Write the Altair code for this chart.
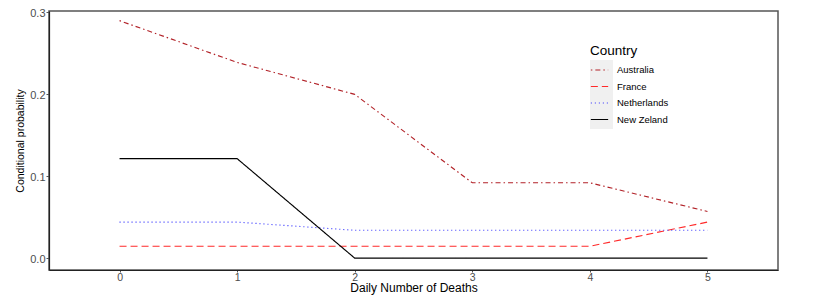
import altair as alt
import pandas as pd

deaths = [0, 1, 2, 3, 4, 5]
countries = ["Australia", "France", "Netherlands", "New Zeland"]
australia = [0.290, 0.239, 0.200, 0.092, 0.092, 0.057]
france = [0.0145, 0.0145, 0.0145, 0.0145, 0.0145, 0.044]
netherlands = [0.044, 0.044, 0.034, 0.034, 0.034, 0.034]
new_zeland = [0.1215, 0.1215, 0.0, 0.0, 0.0, 0.0]

series = {"Australia": australia, "France": france,
          "Netherlands": netherlands, "New Zeland": new_zeland}
rows = []
for c in countries:
    for d, v in zip(deaths, series[c]):
        rows.append({"Deaths": d, "Prob": v, "Country": c})
df = pd.DataFrame(rows)

colors = ["#B22228", "#FF2A2A", "#3030FF", "#000000"]
dashes = [[1.5, 3, 5, 3], [7, 4], [1, 3], [1, 0]]

FONT = "Liberation Sans"

bg = alt.Chart(pd.DataFrame({"k": [0]})).mark_rect(color="#F0F0F0").encode(
    x=alt.value(541), x2=alt.value(564), y=alt.value(49), y2=alt.value(118)
)

lines = alt.Chart(df).mark_line(strokeWidth=1.15).encode(
    x=alt.X("Deaths:Q",
            scale=alt.Scale(domain=[-0.6, 5.6], nice=False, zero=False),
            axis=alt.Axis(values=deaths, format="d", title="Daily Number of Deaths",
                          grid=False, tickSize=2, labelPadding=0, titlePadding=0,
                          labelFontSize=10.5, titleFontSize=12)),
    y=alt.Y("Prob:Q",
            scale=alt.Scale(domain=[-0.0145, 0.3018], nice=False, zero=False),
            axis=alt.Axis(values=[0, 0.1, 0.2, 0.3], format=".1f",
                          title="Conditional probability", grid=False,
                          tickSize=3, labelPadding=1, titlePadding=4, labelOffset=1.5,
                          labelFontSize=11, titleFontSize=10.5)),
    color=alt.Color("Country:N", scale=alt.Scale(domain=countries, range=colors),
                    legend=alt.Legend(title="Country")),
    strokeDash=alt.StrokeDash("Country:N",
                              scale=alt.Scale(domain=countries, range=dashes),
                              legend=alt.Legend(title="Country")),
    order="Deaths:Q",
)

chart = alt.layer(bg, lines).properties(
    width=729, height=259,
    autosize=alt.AutoSizeParams(type="none"),
    padding={"left": 41, "top": 3, "right": 29, "bottom": 26},
).configure_view(
    stroke="#555555", strokeWidth=1.5
).configure_axis(
    labelFont=FONT, titleFont=FONT, labelColor="#4D4D4D", titleColor="#000000",
    titleFontWeight="normal", domainColor="#222222", tickColor="#555555",
    domainWidth=1.2
).configure_legend(
    orient="none", legendX=541, legendY=33,
    titleFont=FONT, titleFontSize=13.5, titleFontWeight="normal", titleColor="#000000",
    titlePadding=3,
    labelFont=FONT, labelFontSize=9.5, labelColor="#000000", labelOffset=8,
    symbolType="stroke", symbolSize=300, symbolStrokeWidth=1.15, rowPadding=2.5,
    padding=0
)

chart.save("out.html", embed_options={"renderer": "svg", "actions": False})
